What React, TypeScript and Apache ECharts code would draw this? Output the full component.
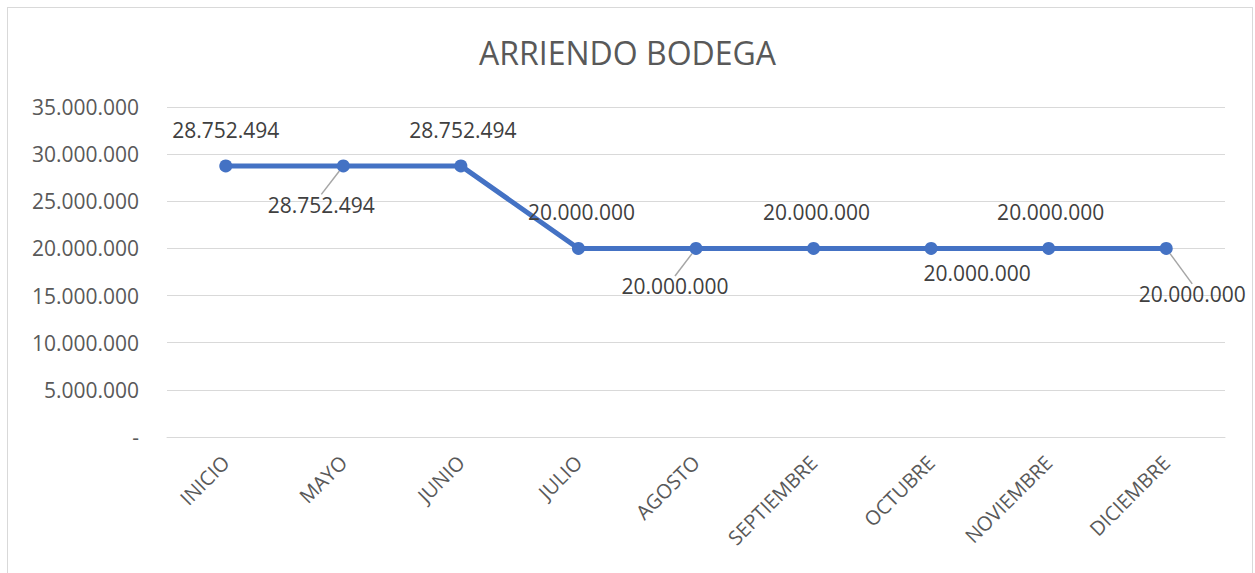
import React, { useEffect, useRef } from "react";
import * as echarts from "echarts";

const categories = ["INICIO", "MAYO", "JUNIO", "JULIO", "AGOSTO", "SEPTIEMBRE", "OCTUBRE", "NOVIEMBRE", "DICIEMBRE"];
const values = [28752494, 28752494, 28752494, 20000000, 20000000, 20000000, 20000000, 20000000, 20000000];
const labelShift = [[0, 0], [-22, 75], [2, 0], [3, 0], [-21, 74], [3, 0], [46, 61], [2, 0], [26, 82]];
const leaderLine = [false, true, false, false, true, false, false, false, true];

const fmt = (v: number) => (v === 0 ? "-" : String(Math.round(v)).replace(/\B(?=(\d{3})+(?!\d))/g, "."));

export default function App() {
  const ref = useRef<HTMLDivElement>(null);
  useEffect(() => {
    if (!ref.current) return;
    const chart = echarts.init(ref.current, undefined, { renderer: "svg" });
    const font = "'Open Sans', 'Noto Sans', sans-serif";
    chart.setOption({
      animation: false,
      textStyle: { fontFamily: font },
      title: {
        text: "ARRIENDO BODEGA",
        left: "center",
        top: 31,
        textStyle: { fontFamily: font, fontSize: 32, fontWeight: "normal", color: "#595959" },
      },
      grid: { left: 167, right: 30, top: 107, bottom: 136, containLabel: false },
      xAxis: {
        type: "category",
        data: categories,
        boundaryGap: true,
        axisLine: { lineStyle: { color: "#d9d9d9", width: 1 } },
        axisTick: { show: false },
        axisLabel: { rotate: 45, margin: 22, fontSize: 20, color: "#595959", fontFamily: font, interval: 0 },
      },
      yAxis: {
        type: "value",
        min: 0,
        max: 35000000,
        interval: 5000000,
        axisLine: { show: false },
        axisTick: { show: false },
        splitLine: { lineStyle: { color: "#d9d9d9", width: 1 } },
        axisLabel: { formatter: fmt, fontSize: 21, color: "#595959", margin: 28, fontFamily: font },
      },
      series: [
        {
          type: "line",
          data: values.map((v, i) => ({
            value: v,
            labelLine: { show: leaderLine[i], lineStyle: { color: "#a6a6a6", width: 1.5 } },
          })),
          lineStyle: { color: "#4472C4", width: 5 },
          itemStyle: { color: "#4472C4" },
          symbol: "circle",
          symbolSize: 13,
          label: {
            show: true,
            position: "top",
            distance: 19,
            fontSize: 21,
            color: "#404040",
            fontFamily: font,
            formatter: (p: any) => fmt(p.value),
          },
          labelLine: { show: false },
          labelLayout: (p: any) => ({ dx: labelShift[p.dataIndex][0], dy: labelShift[p.dataIndex][1] }),
        },
      ],
    });
    return () => chart.dispose();
  }, []);
  return (
    <div style={{ position: "fixed", left: 0, top: 0, width: 1255, height: 573, background: "#fff" }}>
      <div
        style={{
          position: "absolute",
          left: 7,
          top: 7,
          width: 1246,
          height: 580,
          border: "1px solid #d9d9d9",
          boxSizing: "border-box",
        }}
      />
      <div ref={ref} style={{ position: "absolute", left: 0, top: 0, width: 1255, height: 573 }} />
    </div>
  );
}
